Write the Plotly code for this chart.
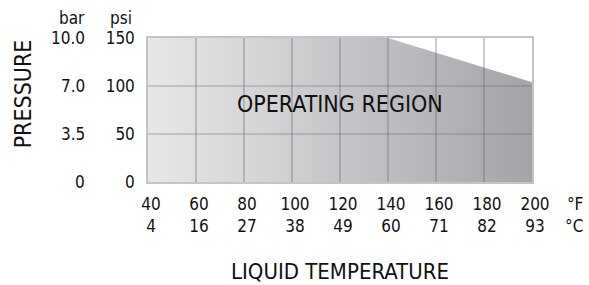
import plotly.graph_objects as go

# Data
temp_f = [40, 60, 80, 100, 120, 140, 160, 180, 200]
temp_c = [4, 16, 27, 38, 49, 60, 71, 82, 93]
psi_ticks = [0, 50, 100, 150]
bar_labels = ["0", "3.5", "7.0", "10.0"]
psi_labels = ["0", "50", "100", "150"]
# operating envelope boundary (temperature °F, max pressure psi)
env_temp = [40, 140, 200]
env_psi = [150, 150, 104]

FONT = "Liberation Sans Narrow, DejaVu Sans Condensed, Arial Narrow, sans-serif"
GRID = "rgba(105,105,110,0.55)"
BORDER = "#c4c4c4"
TXT = "#111"

fig = go.Figure()

# Operating region polygon with horizontal gradient
px = env_temp + [env_temp[-1], env_temp[0], env_temp[0]]
py = env_psi + [0, 0, env_psi[0]]
fig.add_trace(go.Scatter(
    x=px, y=py, mode="lines", line=dict(width=0),
    fill="toself",
    fillgradient=dict(type="horizontal",
                      colorscale=[[0, "#e8e8ea"], [1, "#a3a4a8"]]),
    hoverinfo="skip", showlegend=False))

# Grid lines on top
gx, gy = [], []
for t in temp_f[1:-1]:
    gx += [t, t, None]
    gy += [0, 150, None]
for p in psi_ticks[1:-1]:
    gx += [temp_f[0], temp_f[-1], None]
    gy += [p, p, None]
fig.add_trace(go.Scatter(x=gx, y=gy, mode="lines",
                         line=dict(color=GRID, width=1.2),
                         hoverinfo="skip", showlegend=False))

fig.update_xaxes(range=[40, 200], tickvals=temp_f,
                 ticktext=[f"{f}<br>{c}" for f, c in zip(temp_f, temp_c)],
                 showgrid=False, zeroline=False,
                 showline=True, mirror=True, linecolor=BORDER, linewidth=1.5,
                 ticks="", ticklabelstandoff=6, ticklabelshift=3,
                 tickfont=dict(family=FONT, size=17, color=TXT))
fig.update_yaxes(range=[0, 150], tickvals=psi_ticks, ticktext=psi_labels,
                 showgrid=False, zeroline=False,
                 showline=True, mirror=True, linecolor=BORDER, linewidth=1.5,
                 ticks="", ticklabelstandoff=8,
                 tickfont=dict(family=FONT, size=17, color=TXT))

ann = []
for v, b in zip(psi_ticks, bar_labels):
    ann.append(dict(x=-0.16, xref="paper", y=v, yref="y", text=b, showarrow=False,
                    xanchor="right", yanchor="middle",
                    font=dict(family=FONT, size=17, color=TXT)))
ann += [
    dict(x=-0.16, xref="paper", y=1.0, yref="paper", yshift=20, text="bar", showarrow=False,
         xanchor="right", yanchor="middle", font=dict(family=FONT, size=17, color=TXT)),
    dict(x=-0.037, xref="paper", y=1.0, yref="paper", yshift=20, text="psi", showarrow=False,
         xanchor="right", yanchor="middle", font=dict(family=FONT, size=17, color=TXT)),
    dict(x=1.137, xref="paper", y=0, yref="paper", yshift=-33, text="°F<br>°C", showarrow=False,
         xanchor="right", yanchor="middle", align="right",
         font=dict(family=FONT, size=17, color=TXT)),
    dict(x=-0.325, xref="paper", y=0.61, yref="paper", text="PRESSURE", showarrow=False,
         textangle=-90, xanchor="center", yanchor="middle",
         font=dict(family=FONT, size=23, color=TXT)),
    dict(x=0.5, xref="paper", y=0, yref="paper", yshift=-89, text="LIQUID TEMPERATURE",
         showarrow=False, xanchor="center", yanchor="middle",
         font=dict(family=FONT, size=22, color=TXT)),
    dict(x=0.5, xref="paper", y=0.545, yref="paper", text="OPERATING REGION",
         showarrow=False, xanchor="center", yanchor="middle",
         font=dict(family=FONT, size=23, color=TXT)),
]

fig.update_layout(width=589, height=285,
                  margin=dict(l=148, r=57, t=38, b=103),
                  paper_bgcolor="white", plot_bgcolor="white",
                  annotations=ann, showlegend=False)

fig.write_html("out.html", config={"displayModeBar": False},
               post_script="document.body.style.margin='0';")
